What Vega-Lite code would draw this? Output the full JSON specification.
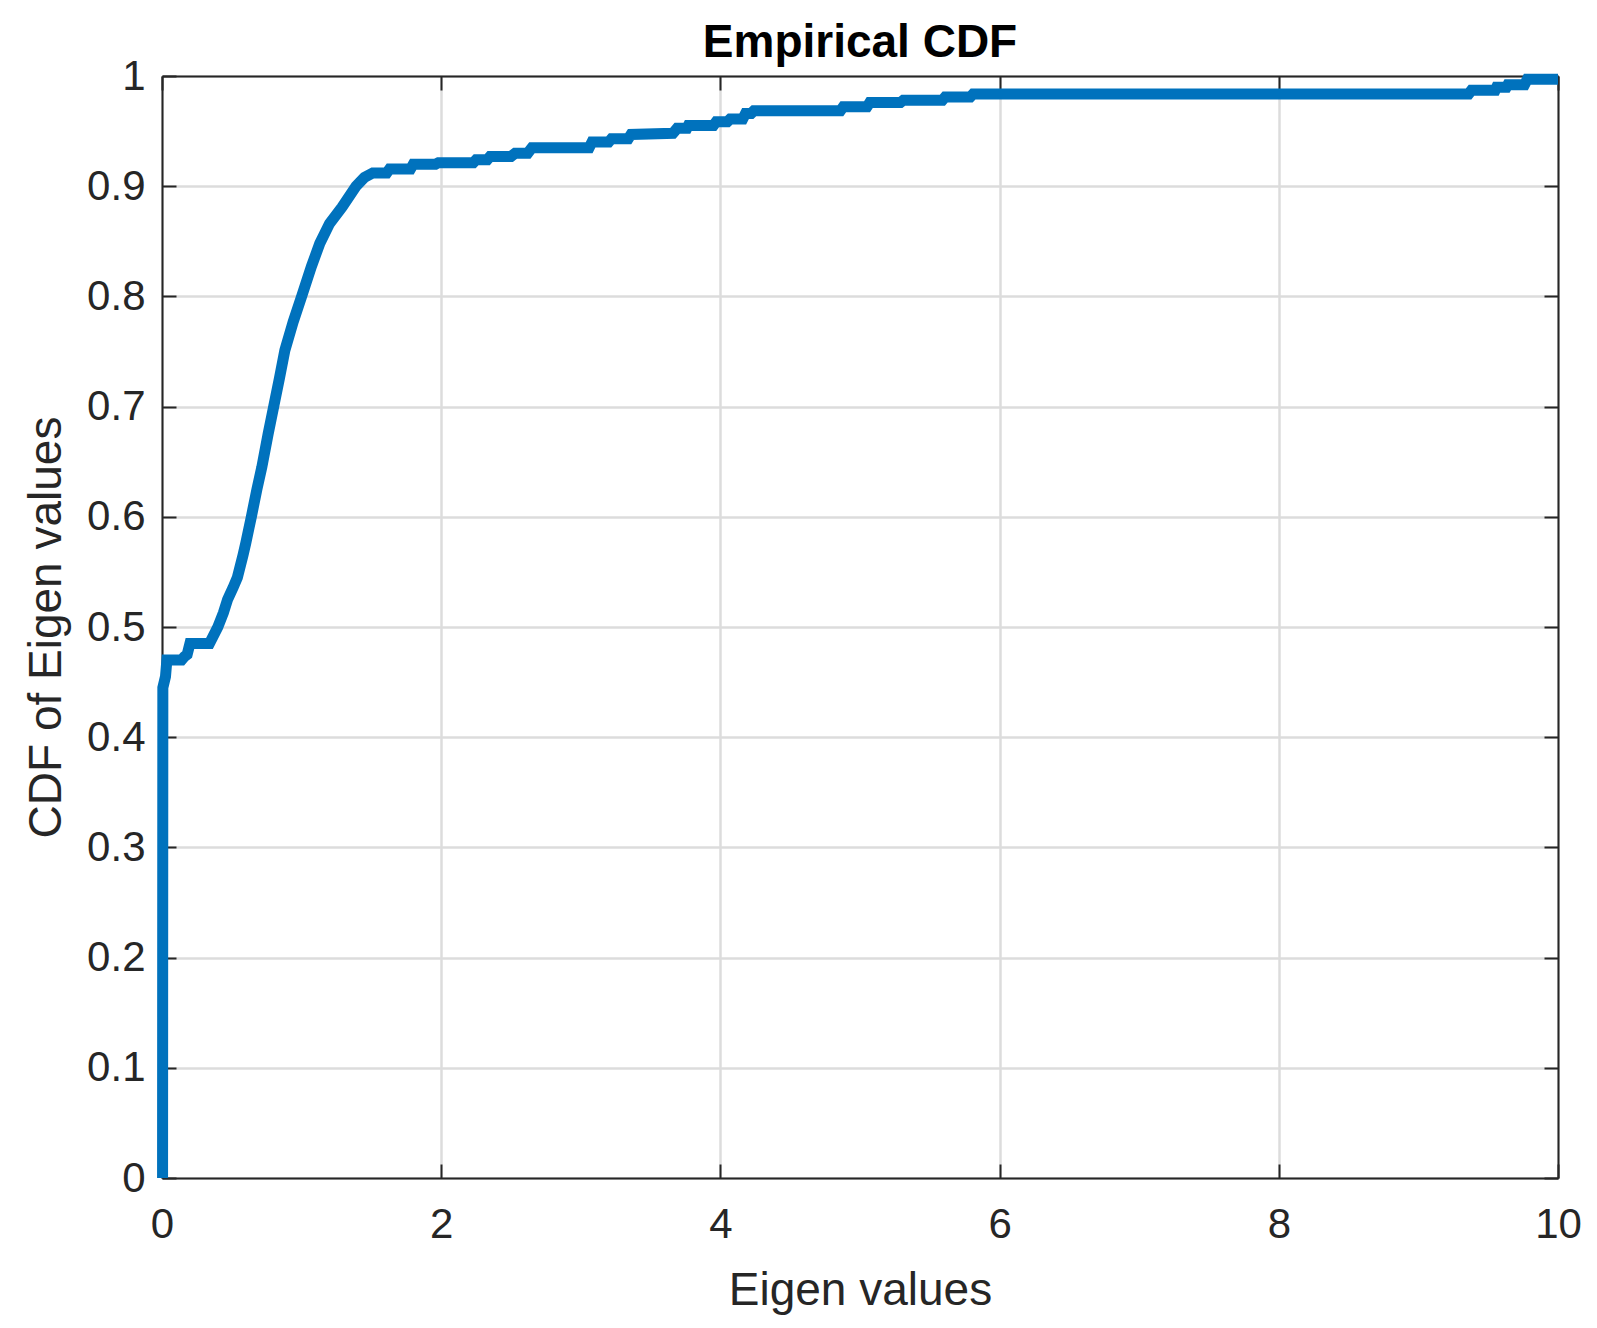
{
  "$schema": "https://vega.github.io/schema/vega-lite/v6.json",
  "autosize": {"type": "none"},
  "padding": {"left": 162, "top": 76, "right": 39, "bottom": 150},
  "width": 1396,
  "height": 1102,
  "background": "#ffffff",
  "title": {"text": "Empirical CDF", "fontSize": 46, "font": "Liberation Sans", "fontWeight": "bold", "color": "#000000", "anchor": "middle", "frame": "group", "baseline": "alphabetic", "offset": 19, "dy": 67},
  "config": {"view": {"stroke": null}},
  "data": {"values": [
    {"x": 0.004, "y": 0.0},
    {"x": 0.006, "y": 0.445},
    {"x": 0.025, "y": 0.455},
    {"x": 0.035, "y": 0.47},
    {"x": 0.14, "y": 0.47},
    {"x": 0.16, "y": 0.473},
    {"x": 0.18, "y": 0.475},
    {"x": 0.2, "y": 0.485},
    {"x": 0.34, "y": 0.485},
    {"x": 0.36, "y": 0.49},
    {"x": 0.38, "y": 0.495},
    {"x": 0.40, "y": 0.50},
    {"x": 0.44, "y": 0.513},
    {"x": 0.47, "y": 0.525},
    {"x": 0.51, "y": 0.536},
    {"x": 0.54, "y": 0.545},
    {"x": 0.58, "y": 0.565},
    {"x": 0.60, "y": 0.576},
    {"x": 0.64, "y": 0.60},
    {"x": 0.68, "y": 0.625},
    {"x": 0.715, "y": 0.645},
    {"x": 0.76, "y": 0.675},
    {"x": 0.80, "y": 0.70},
    {"x": 0.84, "y": 0.725},
    {"x": 0.88, "y": 0.751},
    {"x": 0.94, "y": 0.777},
    {"x": 1.0, "y": 0.80},
    {"x": 1.07, "y": 0.827},
    {"x": 1.13, "y": 0.848},
    {"x": 1.20, "y": 0.866},
    {"x": 1.29, "y": 0.881},
    {"x": 1.39, "y": 0.90},
    {"x": 1.45, "y": 0.908},
    {"x": 1.51, "y": 0.912},
    {"x": 1.61, "y": 0.912},
    {"x": 1.63, "y": 0.9155},
    {"x": 1.78, "y": 0.9155},
    {"x": 1.80, "y": 0.92},
    {"x": 1.96, "y": 0.92},
    {"x": 1.98, "y": 0.9213},
    {"x": 2.23, "y": 0.9213},
    {"x": 2.25, "y": 0.924},
    {"x": 2.33, "y": 0.924},
    {"x": 2.35, "y": 0.927},
    {"x": 2.50, "y": 0.927},
    {"x": 2.53, "y": 0.930},
    {"x": 2.62, "y": 0.930},
    {"x": 2.65, "y": 0.935},
    {"x": 3.06, "y": 0.935},
    {"x": 3.08, "y": 0.940},
    {"x": 3.20, "y": 0.940},
    {"x": 3.22, "y": 0.943},
    {"x": 3.34, "y": 0.943},
    {"x": 3.36, "y": 0.947},
    {"x": 3.66, "y": 0.948},
    {"x": 3.69, "y": 0.9525},
    {"x": 3.76, "y": 0.9525},
    {"x": 3.77, "y": 0.955},
    {"x": 3.95, "y": 0.955},
    {"x": 3.97, "y": 0.9585},
    {"x": 4.05, "y": 0.9585},
    {"x": 4.07, "y": 0.961},
    {"x": 4.16, "y": 0.961},
    {"x": 4.18, "y": 0.966},
    {"x": 4.22, "y": 0.966},
    {"x": 4.24, "y": 0.9685},
    {"x": 4.86, "y": 0.9685},
    {"x": 4.88, "y": 0.972},
    {"x": 5.05, "y": 0.972},
    {"x": 5.07, "y": 0.976},
    {"x": 5.29, "y": 0.976},
    {"x": 5.31, "y": 0.978},
    {"x": 5.59, "y": 0.978},
    {"x": 5.61, "y": 0.981},
    {"x": 5.79, "y": 0.981},
    {"x": 5.81, "y": 0.9837},
    {"x": 9.36, "y": 0.9837},
    {"x": 9.38, "y": 0.987},
    {"x": 9.55, "y": 0.987},
    {"x": 9.56, "y": 0.9897},
    {"x": 9.63, "y": 0.9897},
    {"x": 9.64, "y": 0.992},
    {"x": 9.76, "y": 0.992},
    {"x": 9.78, "y": 0.997},
    {"x": 10.0, "y": 0.997}
  ]},
  "resolve": {"axis": {"x": "independent", "y": "independent"}},
  "layer": [
    {
      "mark": {"type": "line", "color": "#0072BD", "strokeWidth": 11, "strokeCap": "butt", "clip": false},
      "encoding": {
        "x": {"field": "x", "type": "quantitative", "scale": {"domain": [0, 10], "nice": false, "zero": false},
          "axis": {"orient": "bottom", "title": "Eigen values", "values": [0, 2, 4, 6, 8, 10], "format": "~r",
            "labelFont": "Liberation Sans", "labelFontSize": 42, "labelColor": "#262626", "labelFlush": false, "labelOverlap": false,
            "labelPadding": 40, "tickSize": -14, "tickColor": "#262626", "tickWidth": 2,
            "domainColor": "#262626", "domainWidth": 2,
            "grid": true, "gridColor": "#dcdcdc", "gridWidth": 2.5,
            "titleFont": "Liberation Sans", "titleFontSize": 46, "titleFontWeight": "normal", "titleColor": "#262626",
            "titleX": 698, "titleY": 126, "titleBaseline": "alphabetic", "titleAlign": "center"}},
        "y": {"field": "y", "type": "quantitative", "scale": {"domain": [0, 1], "nice": false, "zero": false},
          "axis": {"orient": "left", "title": "CDF of Eigen values", "values": [0, 0.1, 0.2, 0.3, 0.4, 0.5, 0.6, 0.7, 0.8, 0.9, 1], "format": "~r",
            "labelFont": "Liberation Sans", "labelFontSize": 42, "labelColor": "#262626", "labelFlush": false, "labelOverlap": false,
            "labelPadding": 31, "tickSize": -14, "tickColor": "#262626", "tickWidth": 2,
            "domainColor": "#262626", "domainWidth": 2,
            "grid": true, "gridColor": "#dcdcdc", "gridWidth": 2.5,
            "titleFont": "Liberation Sans", "titleFontSize": 46, "titleFontWeight": "normal", "titleColor": "#262626",
            "titleX": -102, "titleY": 551, "titleAngle": -90, "titleBaseline": "alphabetic", "titleAlign": "center"}}
      }
    },
    {
      "mark": {"type": "line", "opacity": 0},
      "encoding": {
        "x": {"field": "x", "type": "quantitative",
          "axis": {"orient": "top", "title": null, "labels": false, "grid": false, "values": [0, 2, 4, 6, 8, 10],
            "tickSize": -14, "tickColor": "#262626", "tickWidth": 2, "domainColor": "#262626", "domainWidth": 2}},
        "y": {"field": "y", "type": "quantitative",
          "axis": {"orient": "right", "title": null, "labels": false, "grid": false, "values": [0, 0.1, 0.2, 0.3, 0.4, 0.5, 0.6, 0.7, 0.8, 0.9, 1],
            "tickSize": -14, "tickColor": "#262626", "tickWidth": 2, "domainColor": "#262626", "domainWidth": 2}}
      }
    }
  ]
}
